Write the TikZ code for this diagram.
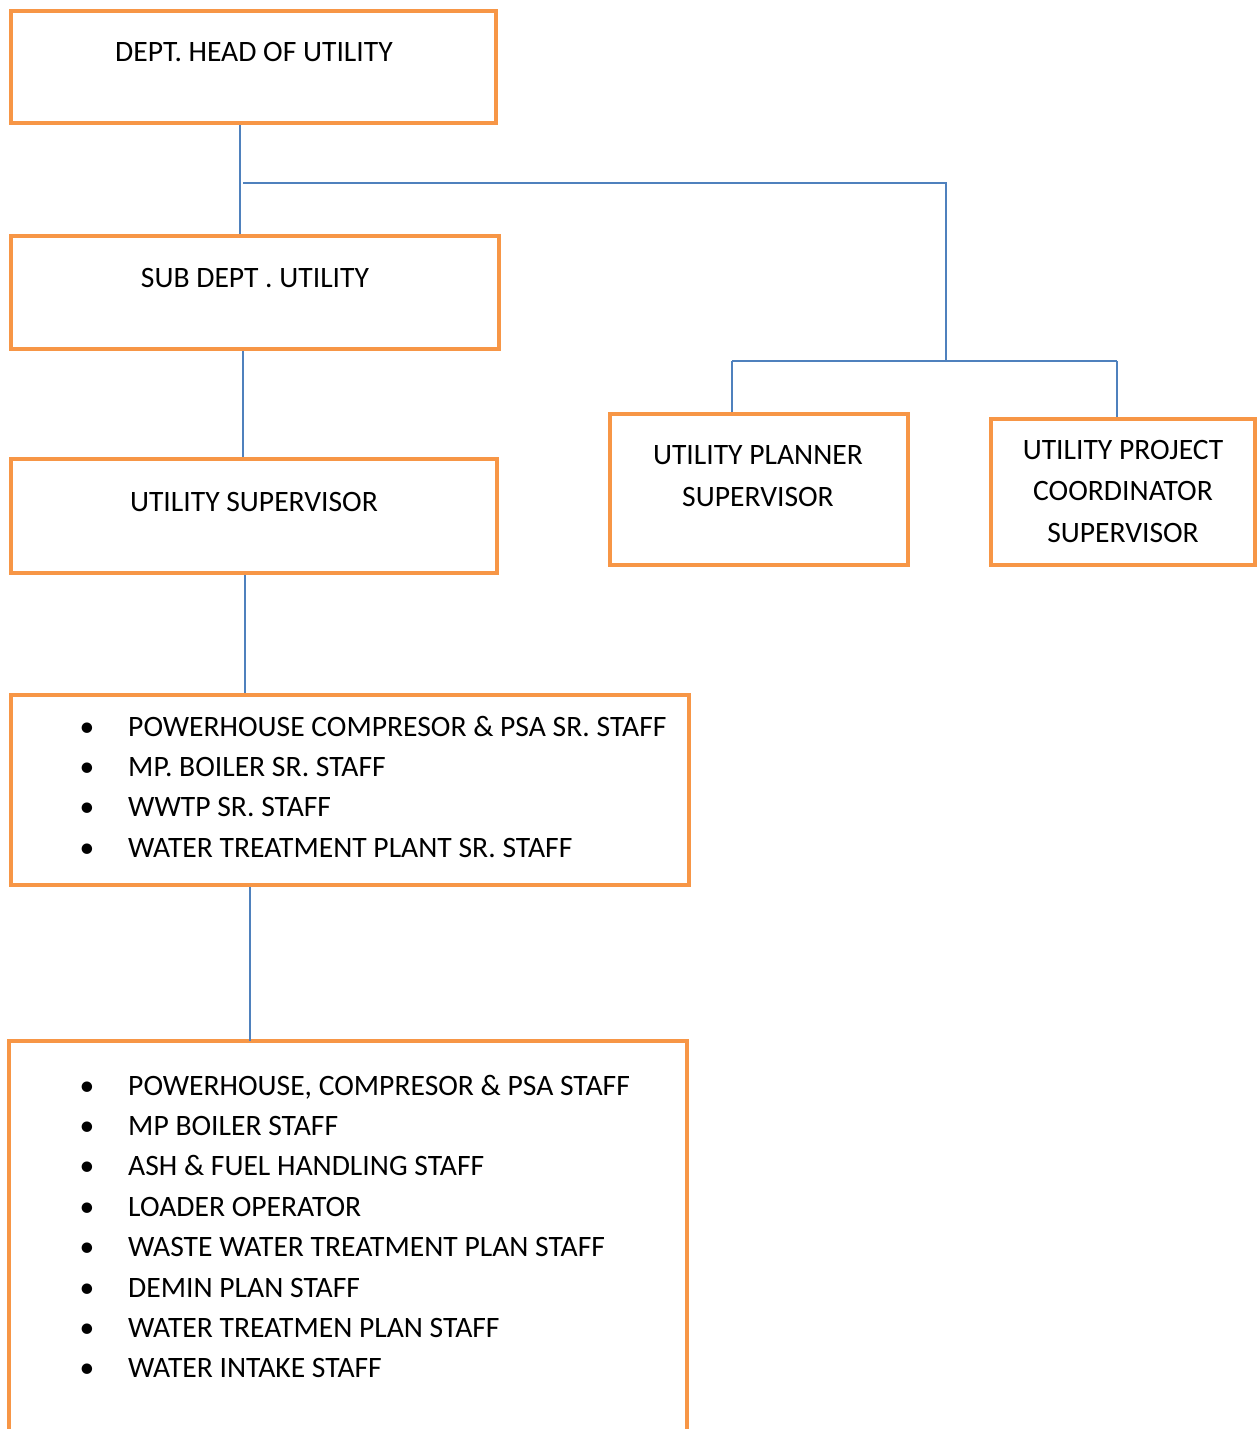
\documentclass[tikz,border=0pt]{standalone}
\usepackage{fontspec}
\setmainfont{Carlito}
\definecolor{orgc}{HTML}{F79646}
\definecolor{lnkc}{HTML}{4F81BD}
\begin{document}
\begin{tikzpicture}[x=1pt,y=-1pt,
 box/.style={draw=orgc,line width=4pt,anchor=north west,inner sep=0pt,outer sep=2pt},
 openbox/.style={anchor=north west,inner sep=0pt,outer sep=2pt},
 conn/.style={draw=lnkc,line width=1.5pt},
 txt/.style={font=\fontsize{29.6}{41}\selectfont,anchor=base,inner sep=0pt},
 itm/.style={font=\fontsize{29.6}{41}\selectfont,anchor=base west,inner sep=0pt},
 bul/.style={font=\fontsize{29.6}{41}\selectfont,anchor=base,inner sep=0pt}]
\useasboundingbox[fill=white] (0,0) rectangle (1260,1429);

% boxes
\node[box,minimum width=485pt,minimum height=112pt] (b1) at (9,9) {};
\node[box,minimum width=488pt,minimum height=113pt] (b2) at (9,234) {};
\node[box,minimum width=486pt,minimum height=114pt] (b3) at (9,457) {};
\node[box,minimum width=678pt,minimum height=190pt] (b4) at (9,693) {};
\node[openbox,minimum width=674pt,minimum height=386pt] (b5) at (9,1041) {};
\draw[orgc,line width=4pt] (b5.south west) -- (b5.north west) -- (b5.north east) -- (b5.south east);
\node[box,minimum width=298pt,minimum height=151pt] (pl) at (608,412) {};
\node[box,minimum width=264pt,minimum height=146pt] (co) at (989,417) {};

% texts
\node[txt] (t1) at (254,62) {DEPT. HEAD OF UTILITY};
\node[txt] (t2) at (255,287) {SUB DEPT . UTILITY};
\node[txt] (t3) at (254,511) {UTILITY SUPERVISOR};
\node[txt] (tp1) at (758,464) {UTILITY PLANNER};
\node[txt] (tp2) at (758,506) {SUPERVISOR};
\node[txt] (tc1) at (1123,459) {UTILITY PROJECT};
\node[txt] (tc2) at (1123,500) {COORDINATOR};
\node[txt] (tc3) at (1123,542) {SUPERVISOR};

\foreach \t [count=\i] in {POWERHOUSE COMPRESOR \& PSA SR. STAFF,MP. BOILER SR. STAFF,WWTP SR. STAFF,WATER TREATMENT PLANT SR. STAFF}{
  \node[bul] (ba\i) at (87,{736+40.4*(\i-1)}) {\textbullet};
  \node[itm] (ia\i) at (128,{736+40.4*(\i-1)}) {\t};
}
\foreach \t [count=\i] in {{POWERHOUSE, COMPRESOR \& PSA STAFF},MP BOILER STAFF,ASH \& FUEL HANDLING STAFF,LOADER OPERATOR,WASTE WATER TREATMENT PLAN STAFF,DEMIN PLAN STAFF,WATER TREATMEN PLAN STAFF,WATER INTAKE STAFF}{
  \node[bul] (bb\i) at (87,{1095+40.4*(\i-1)}) {\textbullet};
  \node[itm] (ib\i) at (128,{1095+40.4*(\i-1)}) {\t};
}

% connectors
\coordinate (j1) at (243,183);
\coordinate (j2) at (946,361);
\coordinate (j3) at (732,361);
\coordinate (j4) at (1117,361);
\draw[conn] ([xshift=231pt]b1.south west) -- ([xshift=231pt]b1.south west |- b2.north);
\draw[conn] (j1) -| (j2);
\draw[conn] (j3) -- (j4);
\draw[conn] (j3) -- (j3 |- pl.north);
\draw[conn] (j4) -- (j4 |- co.north);
\draw[conn] ([xshift=234pt]b2.south west) -- ([xshift=234pt]b2.south west |- b3.north);
\draw[conn] ([xshift=236pt]b3.south west) -- ([xshift=236pt]b3.south west |- b4.north);
\draw[conn] ([xshift=241pt]b4.south west) -- ([xshift=241pt]b4.south west |- b5.north);
\end{tikzpicture}
\end{document}
